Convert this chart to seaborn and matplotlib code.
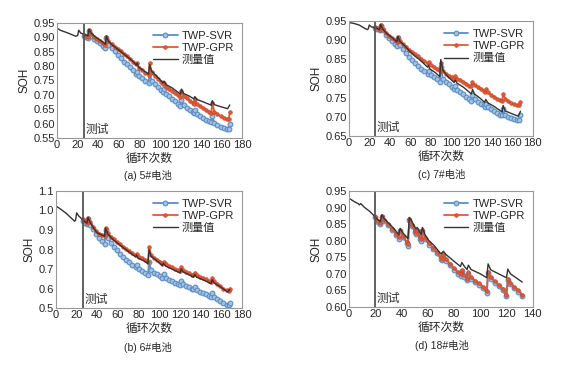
import numpy as np
import pandas as pd
import matplotlib
matplotlib.use("Agg")
import matplotlib.pyplot as plt
import seaborn as sns

sns.set_style("white")
plt.rcParams["font.family"] = ["Liberation Sans", "Noto Sans CJK SC"]
plt.rcParams["axes.unicode_minus"] = False

# =========================
# DATA
# =========================

# prediction cycles for batteries 5#, 6#, 7#
pred_cycles = [26, 28, 30, 31, 33, 36, 39, 42, 45, 47,
               48, 50, 53, 56, 59, 62, 65, 68, 71, 74,
               77, 78, 80, 83, 86, 89, 90, 92, 95, 98,
               101, 103, 104, 106, 109, 112, 115, 118, 120, 121,
               123, 126, 129, 132, 133, 134, 136, 139, 142, 145,
               148, 150, 151, 153, 156, 159, 162, 165, 167, 168]

# prediction cycles for battery 18#
pred_cycles_18 = [20, 22, 24, 25, 27, 30, 33, 36, 38, 39,
                  41, 44, 45, 46, 48, 50, 51, 52, 54, 55,
                  56, 58, 61, 64, 67, 70, 71, 72, 74, 77,
                  80, 83, 85, 86, 88, 90, 91, 93, 96, 99,
                  102, 105, 106, 108, 111, 114, 117, 120, 121, 123,
                  126, 129, 132]

# ---- 5# battery ----
meas5_x = [1, 3, 6, 10, 14, 18, 20, 21, 23, 26, 30, 31, 33, 37, 42, 47, 48, 50, 55, 60,
           65, 70, 75, 77, 78, 79, 84, 89, 90, 92, 97, 103, 104, 106, 112, 120, 121, 123,
           128, 133, 134, 136, 142, 150, 151, 153, 160, 166, 168]
meas5_y = [0.930, 0.925, 0.921, 0.916, 0.910, 0.904, 0.906, 0.925, 0.915, 0.911, 0.905, 0.928,
           0.916, 0.902, 0.890, 0.876, 0.905, 0.886, 0.870, 0.856, 0.842, 0.828, 0.812, 0.803,
           0.811, 0.797, 0.785, 0.772, 0.805, 0.782, 0.765, 0.742, 0.748, 0.736, 0.724, 0.703,
           0.720, 0.705, 0.697, 0.686, 0.694, 0.684, 0.676, 0.664, 0.680, 0.666, 0.658, 0.652, 0.665]
svr5 = [0.905, 0.902, 0.899, 0.921, 0.905, 0.896, 0.887, 0.879, 0.870, 0.864,
        0.897, 0.875, 0.863, 0.851, 0.839, 0.827, 0.816, 0.806, 0.796, 0.785,
        0.773, 0.780, 0.765, 0.757, 0.749, 0.740, 0.775, 0.750, 0.738, 0.728,
        0.718, 0.709, 0.722, 0.704, 0.695, 0.686, 0.677, 0.669, 0.663, 0.683,
        0.664, 0.655, 0.647, 0.639, 0.636, 0.648, 0.634, 0.627, 0.620, 0.614,
        0.608, 0.604, 0.625, 0.603, 0.596, 0.590, 0.586, 0.583, 0.582, 0.600]
gpr5 = [0.910, 0.906, 0.902, 0.925, 0.912, 0.903, 0.895, 0.888, 0.880, 0.874,
        0.903, 0.886, 0.877, 0.868, 0.860, 0.851, 0.842, 0.834, 0.825, 0.816,
        0.806, 0.810, 0.794, 0.785, 0.777, 0.768, 0.810, 0.778, 0.766, 0.756,
        0.746, 0.738, 0.743, 0.729, 0.721, 0.713, 0.705, 0.698, 0.692, 0.714,
        0.696, 0.688, 0.680, 0.673, 0.669, 0.685, 0.669, 0.661, 0.654, 0.648,
        0.642, 0.638, 0.672, 0.641, 0.632, 0.626, 0.621, 0.617, 0.616, 0.640]

# ---- 6# battery ----
meas6_x = [1, 5, 10, 14, 18, 19, 20, 22, 24, 26, 30, 31, 33, 37, 40, 44, 47, 48, 50, 55,
           60, 65, 70, 77, 78, 79, 85, 89, 90, 92, 97, 103, 104, 106, 112, 120, 121, 123,
           128, 133, 134, 136, 142, 150, 151, 153, 160, 166, 168]
meas6_y = [1.020, 1.005, 0.985, 0.965, 0.945, 0.950, 0.988, 0.972, 0.962, 0.952, 0.935, 0.965,
           0.940, 0.905, 0.885, 0.875, 0.868, 0.910, 0.880, 0.852, 0.830, 0.810, 0.790, 0.762,
           0.772, 0.757, 0.742, 0.728, 0.800, 0.765, 0.745, 0.718, 0.730, 0.715, 0.700, 0.680,
           0.700, 0.685, 0.672, 0.658, 0.672, 0.658, 0.645, 0.625, 0.645, 0.628, 0.605, 0.582, 0.595]
svr6 = [0.948, 0.938, 0.930, 0.955, 0.928, 0.905, 0.880, 0.860, 0.842, 0.830,
        0.898, 0.860, 0.835, 0.815, 0.795, 0.778, 0.762, 0.748, 0.735, 0.722,
        0.708, 0.718, 0.700, 0.690, 0.680, 0.668, 0.738, 0.695, 0.680, 0.672,
        0.664, 0.656, 0.672, 0.652, 0.642, 0.636, 0.630, 0.624, 0.620, 0.640,
        0.624, 0.615, 0.607, 0.598, 0.595, 0.606, 0.592, 0.584, 0.577, 0.570,
        0.563, 0.558, 0.575, 0.555, 0.545, 0.536, 0.527, 0.518, 0.513, 0.528]
gpr6 = [0.955, 0.945, 0.937, 0.962, 0.940, 0.915, 0.893, 0.882, 0.876, 0.870,
        0.910, 0.885, 0.866, 0.852, 0.838, 0.826, 0.815, 0.804, 0.793, 0.782,
        0.770, 0.778, 0.764, 0.755, 0.747, 0.737, 0.815, 0.772, 0.757, 0.748,
        0.738, 0.728, 0.738, 0.725, 0.715, 0.708, 0.700, 0.693, 0.688, 0.710,
        0.694, 0.686, 0.678, 0.670, 0.667, 0.682, 0.668, 0.660, 0.653, 0.647,
        0.639, 0.634, 0.652, 0.636, 0.624, 0.612, 0.600, 0.590, 0.588, 0.600]

# ---- 7# battery ----
meas7_x = [1, 5, 10, 15, 18, 19, 20, 22, 26, 30, 31, 33, 37, 42, 47, 48, 50, 55, 60, 65,
           70, 77, 78, 79, 85, 89, 90, 92, 97, 103, 104, 106, 112, 120, 121, 123, 128, 133,
           134, 136, 142, 150, 151, 153, 160, 166, 168]
meas7_y = [0.946, 0.944, 0.940, 0.932, 0.928, 0.930, 0.940, 0.935, 0.933, 0.928, 0.942, 0.930,
           0.918, 0.908, 0.896, 0.910, 0.897, 0.885, 0.870, 0.858, 0.848, 0.830, 0.835, 0.826,
           0.815, 0.805, 0.850, 0.822, 0.805, 0.790, 0.796, 0.788, 0.778, 0.760, 0.772, 0.760,
           0.750, 0.738, 0.746, 0.737, 0.728, 0.713, 0.730, 0.716, 0.708, 0.702, 0.715]
svr7 = [0.932, 0.930, 0.926, 0.938, 0.926, 0.915, 0.906, 0.898, 0.890, 0.885,
        0.905, 0.888, 0.877, 0.866, 0.856, 0.848, 0.840, 0.833, 0.826, 0.820,
        0.813, 0.820, 0.810, 0.804, 0.798, 0.792, 0.830, 0.800, 0.792, 0.785,
        0.778, 0.773, 0.780, 0.770, 0.765, 0.759, 0.753, 0.747, 0.743, 0.758,
        0.746, 0.740, 0.735, 0.730, 0.727, 0.735, 0.725, 0.720, 0.716, 0.711,
        0.706, 0.704, 0.720, 0.706, 0.700, 0.697, 0.694, 0.692, 0.692, 0.705]
gpr7 = [0.935, 0.932, 0.928, 0.940, 0.930, 0.920, 0.912, 0.906, 0.900, 0.895,
        0.908, 0.898, 0.890, 0.882, 0.876, 0.870, 0.864, 0.858, 0.852, 0.846,
        0.840, 0.843, 0.836, 0.830, 0.824, 0.819, 0.840, 0.820, 0.813, 0.808,
        0.804, 0.800, 0.806, 0.800, 0.796, 0.792, 0.787, 0.782, 0.780, 0.792,
        0.784, 0.778, 0.773, 0.768, 0.766, 0.772, 0.764, 0.758, 0.753, 0.748,
        0.745, 0.743, 0.760, 0.748, 0.742, 0.737, 0.733, 0.731, 0.731, 0.740]

# ---- 18# battery ----
meas18_x = [1, 4, 7, 8, 9, 12, 16, 20, 22, 24, 25, 27, 30, 34, 38, 39, 41, 45, 46, 48,
            50, 51, 52, 55, 56, 58, 61, 65, 70, 72, 74, 80, 85, 86, 88, 90, 91, 93, 100,
            105, 106, 108, 114, 120, 121, 123, 128, 132]
meas18_y = [0.926, 0.918, 0.912, 0.908, 0.912, 0.900, 0.888, 0.872, 0.864, 0.857, 0.878, 0.866,
            0.854, 0.838, 0.818, 0.837, 0.824, 0.806, 0.870, 0.858, 0.842, 0.836, 0.840, 0.818,
            0.840, 0.818, 0.800, 0.785, 0.760, 0.768, 0.758, 0.738, 0.722, 0.734, 0.722, 0.713,
            0.726, 0.713, 0.700, 0.688, 0.730, 0.712, 0.700, 0.688, 0.714, 0.700, 0.686, 0.675]
svr18 = [0.870, 0.855, 0.849, 0.872, 0.860, 0.846, 0.832, 0.818, 0.806, 0.830,
         0.812, 0.793, 0.785, 0.862, 0.845, 0.826, 0.820, 0.830, 0.806, 0.800,
         0.828, 0.805, 0.788, 0.775, 0.762, 0.745, 0.742, 0.755, 0.740, 0.726,
         0.712, 0.700, 0.693, 0.708, 0.690, 0.680, 0.700, 0.684, 0.674, 0.666,
         0.656, 0.642, 0.702, 0.684, 0.672, 0.662, 0.650, 0.632, 0.680, 0.668,
         0.656, 0.645, 0.632]
gpr18 = [0.871, 0.858, 0.852, 0.875, 0.863, 0.849, 0.835, 0.821, 0.810, 0.833,
         0.815, 0.797, 0.789, 0.865, 0.848, 0.830, 0.824, 0.833, 0.810, 0.804,
         0.831, 0.809, 0.792, 0.779, 0.766, 0.750, 0.746, 0.759, 0.744, 0.730,
         0.716, 0.705, 0.698, 0.712, 0.695, 0.685, 0.704, 0.689, 0.679, 0.671,
         0.661, 0.647, 0.706, 0.689, 0.677, 0.667, 0.655, 0.637, 0.684, 0.672,
         0.661, 0.650, 0.637]

# =========================
# PLOT
# =========================

svr_color = "#5b8ec4"
gpr_color = "#e05a37"
meas_color = "#333333"

panels = [
    # axes rect, meas x, meas y, pred x, svr, gpr, test start, ylim, yticks, fmt, xmax, caption, caption pos
    ([0.100, 0.625, 0.324, 0.3125], meas5_x, meas5_y, pred_cycles, svr5, gpr5, 26,
     (0.55, 0.95), np.arange(0.55, 0.951, 0.05), "{:.2f}", 180, "(a) 5#电池", (0.259, 0.523)),
    ([0.611, 0.630, 0.322, 0.3125], meas7_x, meas7_y, pred_cycles, svr7, gpr7, 26,
     (0.65, 0.95), np.arange(0.65, 0.951, 0.05), "{:.2f}", 180, "(c) 7#电池", (0.774, 0.527)),
    ([0.098, 0.163, 0.326, 0.318], meas6_x, meas6_y, pred_cycles, svr6, gpr6, 26,
     (0.5, 1.1), np.arange(0.5, 1.101, 0.1), "{:.1f}", 180, "(b) 6#电池", (0.259, 0.057)),
    ([0.611, 0.166, 0.322, 0.315], meas18_x, meas18_y, pred_cycles_18, svr18, gpr18, 20,
     (0.60, 0.95), np.arange(0.60, 0.951, 0.05), "{:.2f}", 140, "(d) 18#电池", (0.774, 0.062)),
]

fig = plt.figure(figsize=(5.71, 3.68), dpi=100)

for rect, mx, my, px, svr, gpr, t0, ylim, yticks, yfmt, xmax, caption, cpos in panels:
    ax = fig.add_axes(rect)
    pred = pd.DataFrame({"cycle": px, "svr": svr, "gpr": gpr})
    meas = pd.DataFrame({"cycle": mx, "soh": my})

    sns.lineplot(data=pred, x="cycle", y="svr", ax=ax, color=svr_color, lw=1.3,
                 marker="o", markersize=3.4, markerfacecolor="#a3c1e2",
                 markeredgecolor=svr_color, markeredgewidth=0.8, label="TWP-SVR")
    sns.lineplot(data=pred, x="cycle", y="gpr", ax=ax, color=gpr_color, lw=1.3,
                 marker="o", markersize=2.6, markeredgewidth=0.5,
                 markeredgecolor="#c9492b", label="TWP-GPR")
    sns.lineplot(data=meas, x="cycle", y="soh", ax=ax, color=meas_color, lw=1.0,
                 label="测量值")

    ax.axvline(t0, color="#555555", lw=1.3)
    ax.text(t0 + 1.2, ylim[0] + 0.02 * (ylim[1] - ylim[0]), "测试", fontsize=8.5,
            color="#333333", ha="left", va="bottom")

    ax.set_xlim(0, xmax)
    ax.set_ylim(*ylim)
    ax.set_xticks(np.arange(0, xmax + 1, 20))
    ax.set_yticks(yticks)
    ax.set_yticklabels([yfmt.format(v) for v in yticks])
    ax.set_xlabel("循环次数", fontsize=8.5, labelpad=2)
    ax.set_ylabel("SOH", fontsize=8.5, labelpad=2)
    ax.tick_params(labelsize=8, direction="in", length=2, width=0.6, pad=1.5)
    for s in ax.spines.values():
        s.set_color("#999999")
        s.set_linewidth(0.8)

    ax.legend(loc="upper right", frameon=False, fontsize=8, handlelength=2.2,
              handletextpad=0.4, labelspacing=0.2, borderaxespad=0.3)

    fig.text(cpos[0], cpos[1], caption, fontsize=7.5, ha="center", va="center")

plt.savefig("out.png", dpi=100)
plt.close()
